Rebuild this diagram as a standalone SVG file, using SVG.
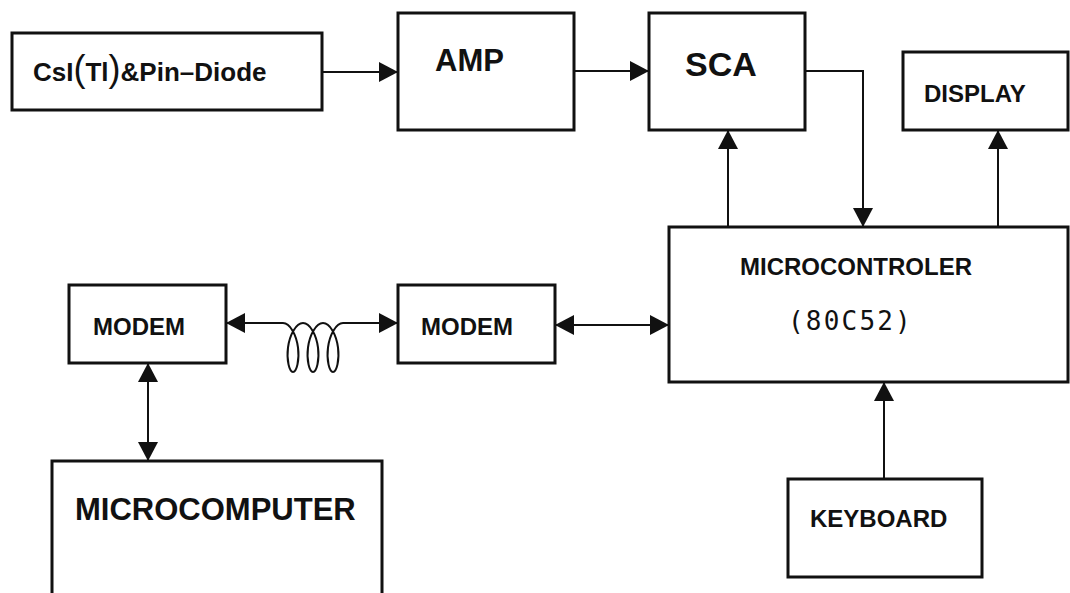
<svg xmlns="http://www.w3.org/2000/svg" width="1070" height="593" viewBox="0 0 1070 593">
<style>
.box{fill:#fff;stroke:#111;stroke-width:3}
.lbl{font-family:"Liberation Sans",Arial,sans-serif;font-weight:bold;fill:#111}
.wire{fill:none;stroke:#111;stroke-width:2}
</style>
<defs>
<marker id="ah" markerUnits="userSpaceOnUse" markerWidth="19" markerHeight="20" refX="19" refY="10" orient="auto-start-reverse">
<path d="M0,0 L19,10 L0,20 Z" fill="#111"/>
</marker>
</defs>
<rect width="1070" height="593" fill="#fff"/>
<g id="connectors">
<line class="wire" x1="322" y1="72" x2="398" y2="72" marker-end="url(#ah)"/>
<line class="wire" x1="574" y1="71" x2="649" y2="71" marker-end="url(#ah)"/>
<path class="wire" d="M805,71 H863 V227" marker-end="url(#ah)"/>
<line class="wire" x1="728" y1="227" x2="728" y2="130" marker-end="url(#ah)"/>
<line class="wire" x1="998" y1="227" x2="998" y2="130" marker-end="url(#ah)"/>
<line class="wire" x1="884" y1="479" x2="884" y2="382" marker-end="url(#ah)"/>
<line class="wire" x1="555" y1="325" x2="669" y2="325" marker-start="url(#ah)" marker-end="url(#ah)"/>
<line class="wire" x1="148" y1="363" x2="148" y2="461" marker-start="url(#ah)" marker-end="url(#ah)"/>
<line class="wire" x1="226" y1="323" x2="283" y2="323" marker-start="url(#ah)"/>
<line class="wire" x1="343" y1="323" x2="398" y2="323" marker-end="url(#ah)"/>
<path class="wire" stroke-width="1.6" d="M283,323 C289.9,323 296.33,334.67 298,347.5 C299.67,360.33 296.57,372 293,372 C289.43,372 286.33,360.33 288,347.5 C289.67,334.67 296.1,323 303,323 C309.9,323 316.33,334.67 318,347.5 C319.67,360.33 316.57,372 313,372 C309.43,372 306.33,360.33 308,347.5 C309.67,334.67 316.1,323 323,323 C329.9,323 336.33,334.67 338,347.5 C339.67,360.33 336.57,372 333,372 C329.43,372 326.33,360.33 328,347.5 C329.67,334.67 336.1,323 343,323"/>
</g>
<g id="csi">
<rect class="box" x="12" y="33" width="310" height="77"/>
<text class="lbl" x="33" y="81" font-size="26">CsI<tspan font-weight="normal" font-size="36">(</tspan>Tl<tspan font-weight="normal" font-size="36">)</tspan>&amp;Pin–Diode</text>
</g>
<g id="amp">
<rect class="box" x="398" y="13" width="176" height="117"/>
<text class="lbl" x="435" y="71" font-size="31">AMP</text>
</g>
<g id="sca">
<rect class="box" x="649" y="13" width="156" height="117"/>
<text class="lbl" x="685" y="76" font-size="34">SCA</text>
</g>
<g id="display">
<rect class="box" x="903" y="52" width="165" height="78"/>
<text class="lbl" x="924" y="102" font-size="24">DISPLAY</text>
</g>
<g id="microcontroller">
<rect class="box" x="669" y="227" width="399" height="155"/>
<text class="lbl" x="740" y="275" font-size="24">MICROCONTROLER</text>
<text x="788" y="330" font-family="'DejaVu Sans Mono','Liberation Mono',monospace" font-size="26" letter-spacing="2.2" fill="#111">(80C52)</text>
</g>
<g id="modem-left">
<rect class="box" x="69" y="285" width="157" height="78"/>
<text class="lbl" x="93" y="335" font-size="24">MODEM</text>
</g>
<g id="modem-mid">
<rect class="box" x="398" y="285" width="157" height="78"/>
<text class="lbl" x="421" y="335" font-size="24">MODEM</text>
</g>
<g id="microcomputer">
<rect class="box" x="52" y="461" width="330" height="145"/>
<text class="lbl" x="75" y="520" font-size="31">MICROCOMPUTER</text>
</g>
<g id="keyboard">
<rect class="box" x="788" y="479" width="194" height="98"/>
<text class="lbl" x="810" y="527" font-size="24">KEYBOARD</text>
</g>
</svg>
